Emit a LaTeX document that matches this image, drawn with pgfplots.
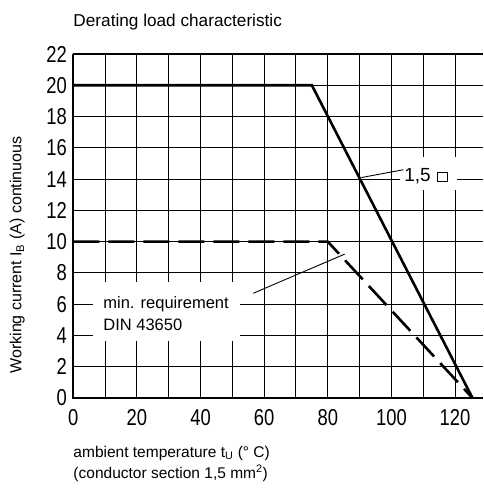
\documentclass[border=0pt]{standalone}
\usepackage{fontspec}
\setmainfont{Liberation Sans}
\newfontfamily\tickfont[FakeStretch=0.8]{Liberation Sans}
\usepackage{pgfplots}
\pgfplotsset{compat=1.18}
\begin{document}
\begin{tikzpicture}
\begin{axis}[
  name=ax,
  scale only axis, width=409.7pt, height=344pt,
  xmin=0, xmax=128.8, ymin=0, ymax=22,
  xtick={0,20,...,120}, ytick={0,2,...,22},
  minor xtick={10,30,...,110},
  grid=both,
  major grid style={black, line width=1pt},
  minor grid style={black, line width=1pt},
  major tick length=0pt, minor tick length=0pt,
  axis line style={draw=none},
  tick label style={font=\tickfont\fontsize{23}{23}\selectfont},
  xticklabel style={yshift=-8pt},
  yticklabel style={xshift=-3pt},
  /pgf/number format/assume math mode=true,
  clip=false,
]
% white patches behind annotation texts
\fill[white] (axis cs:6.2,3.65) rectangle (axis cs:52.5,7.45);
\fill[white] (axis cs:102.6,13.3) rectangle (axis cs:120.5,15.4);

\addplot[black, line width=2.6pt, line join=miter] coordinates {(0,20) (75,20) (125.5,0)};
\addplot[black, line width=2.6pt, dash pattern=on 26pt off 9pt] coordinates {(0,10) (80,10) (125.5,0)};

\draw[line width=2.2pt] (rel axis cs:0,1) -- (rel axis cs:0,0) -- (rel axis cs:1,0);
\draw[line width=1.3pt] (rel axis cs:0,1) -- (rel axis cs:1,1);

% annotations
\draw[line width=0.9pt] (axis cs:90.6,14.1) -- (axis cs:103.8,14.6);
\node[anchor=base west, inner sep=0pt, font=\fontsize{19}{19}\selectfont] at (axis cs:104,13.85) {1,5\hspace{6pt}\tikz[baseline=0pt]\draw[line width=1.4pt] (0,0) rectangle (10pt,9pt);};
\draw[line width=0.9pt] (axis cs:56.6,6.7) -- (axis cs:85.3,9.2);
\node[anchor=base west, inner sep=0pt, font=\fontsize{16.5}{20}\selectfont] at (axis cs:9.4,5.72) {min. requirement};
\node[anchor=base west, inner sep=0pt, font=\fontsize{16.5}{20}\selectfont] at (axis cs:9.4,4.32) {DIN 43650};

% titles and labels
\node[anchor=base west, inner sep=0pt, font=\fontsize{17.2}{18}\selectfont] at ([yshift=27pt]rel axis cs:0,1) {Derating load characteristic};
\node[anchor=base west, inner sep=0pt, font=\fontsize{15.5}{18}\selectfont] at ([yshift=-59pt]rel axis cs:0,0) {ambient temperature t\textsubscript{U} (° C)};
\node[anchor=base west, inner sep=0pt, font=\fontsize{15.5}{18}\selectfont] at ([yshift=-80pt]rel axis cs:0,0) {(conductor section 1,5 mm\textsuperscript{2})};
\node[rotate=90, anchor=center, inner sep=0pt, font=\fontsize{16}{18}\selectfont] at ([xshift=-56pt,yshift=-29pt]rel axis cs:0,0.5) {Working current I\textsubscript{B} (A) continuous};
\end{axis}
\pgfresetboundingbox
\path (ax.south west) ++(-73.3pt,-92pt) rectangle ++(483pt,490pt);
\end{tikzpicture}
\end{document}
